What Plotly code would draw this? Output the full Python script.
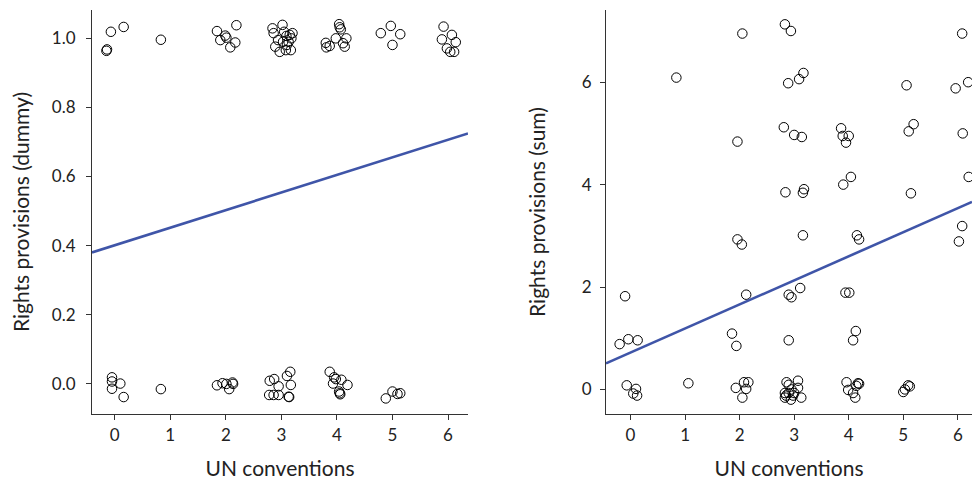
import plotly.graph_objects as go

# ---------------- data: left panel (rights provisions, dummy) ----------------
dummy_x = [
    -0.15, -0.14, -0.07, 0.16,
    0.83,
    1.84, 1.90, 1.99, 2.01, 2.08, 2.17, 2.19,
    2.84, 2.86, 3.02, 3.05, 3.20, 2.89, 2.97, 3.03, 3.08, 3.13, 3.17, 3.10, 3.18, 3.15, 2.94, 3.09,
    3.80, 3.81, 3.87, 3.98, 4.04, 4.05, 4.07, 4.11, 4.14, 4.17,
    4.79, 4.97, 5.00, 5.14,
    5.92, 5.89, 6.07, 6.14, 5.98, 6.04, 6.11,
    -0.05, -0.05, -0.05, 0.10, 0.16,
    0.83,
    1.84, 1.94, 2.01, 2.06, 2.12, 2.13,
    2.79, 2.87, 2.95, 3.10, 3.16, 3.17, 2.78, 2.86, 2.95, 3.13, 3.14,
    3.87, 3.95, 3.98, 3.93, 4.08, 4.19, 4.04, 4.05, 4.06,
    4.88, 5.00, 5.09, 5.14,
]
dummy_y = [
    0.963, 0.967, 1.018, 1.032,
    0.995,
    1.020, 0.994, 1.007, 1.001, 0.973, 0.987, 1.037,
    1.028, 1.014, 1.038, 1.018, 1.014, 0.975, 0.960, 0.989, 0.965, 0.989, 0.965, 0.980, 0.999, 1.009, 0.994, 1.006,
    0.986, 0.973, 0.977, 0.999, 1.040, 1.031, 1.025, 0.985, 0.975, 0.999,
    1.014, 1.035, 0.980, 1.011,
    1.033, 0.996, 1.009, 0.988, 0.970, 0.960, 0.960,
    0.019, 0.007, -0.014, 0.001, -0.038,
    -0.015,
    -0.004, 0.002, 0.000, -0.015, 0.004, 0.000,
    0.009, 0.014, -0.007, 0.023, 0.035, -0.003, -0.032, -0.032, -0.032, -0.037, -0.038,
    0.035, 0.019, 0.014, 0.001, 0.012, -0.003, -0.022, -0.027, -0.030,
    -0.042, -0.022, -0.029, -0.027,
]

# ---------------- data: right panel (rights provisions, sum) ----------------
sum_x = [
    0.84, 2.05, 2.83, 2.94, 6.08, 3.17, 3.09, 2.89, 5.06, 5.96, 6.19,
    2.81, 3.00, 3.14, 1.96, 3.86, 3.89, 4.00, 3.95, 5.10, 5.19, 6.09,
    2.84, 3.18, 3.16, 3.90, 4.04, 5.14, 6.20,
    1.96, 2.04, 3.16, 4.15, 4.19, 6.08, 6.02,
    -0.10, -0.20, -0.04, 0.13, 2.12, 1.86, 1.94, 2.90, 2.95, 3.11, 2.90, 3.94, 4.01, 4.13, 4.08,
    -0.07, 0.10, 0.05, 0.12,
    1.06,
    1.93, 2.05, 2.08, 2.16, 2.12,
    2.90, 3.07, 2.83, 2.83, 2.85, 2.94, 3.00, 3.13, 2.95, 3.07, 2.90, 2.98, 2.86,
    3.96, 3.99, 4.12, 4.17, 4.14, 4.19, 4.08,
    5.00, 5.03, 5.09, 5.12,
]
sum_y = [
    6.09, 6.95, 7.13, 7.00, 6.95, 6.18, 6.06, 5.98, 5.94, 5.88, 6.00,
    5.12, 4.97, 4.93, 4.84, 5.10, 4.95, 4.95, 4.82, 5.04, 5.18, 5.00,
    3.85, 3.91, 3.84, 4.00, 4.15, 3.83, 4.15,
    2.93, 2.83, 3.01, 3.01, 2.93, 3.19, 2.89,
    1.82, 0.885, 0.98, 0.96, 1.85, 1.09, 0.85, 1.85, 1.80, 1.98, 0.96, 1.89, 1.89, 1.14, 0.96,
    0.08, 0.01, -0.08, -0.12,
    0.12,
    0.03, -0.16, 0.14, 0.14, 0.01,
    0.09, 0.17, -0.07, -0.16, -0.12, -0.20, -0.07, -0.16, 0.00, 0.03, -0.07, -0.12, 0.14,
    0.14, -0.01, -0.16, 0.12, 0.07, 0.11, -0.07,
    -0.05, 0.00, 0.08, 0.06,
]

# fitted linear trends (intercept, slope)
dummy_fit = (0.401, 0.0508)
sum_fit = (0.72, 0.47)

x_ticks = [0, 1, 2, 3, 4, 5, 6]
dummy_ticks = [0.0, 0.2, 0.4, 0.6, 0.8, 1.0]
sum_ticks = [0, 2, 4, 6]

x_title = "UN conventions"
y1_title = "Rights provisions (dummy)"
y2_title = "Rights provisions (sum)"

# ---------------- styling ----------------
W, H = 972, 482
x1_range = [-0.41, 6.36]
x2_range = [-0.45, 6.26]
y1_range = [-0.087, 1.081]
y2_range = [-0.48, 7.41]
FONT = "Lato"
TXT = "#222222"
AX = "#333333"
LINE_COLOR = "#3f55a8"
TICK_SIZE = 17
TITLE_SIZE = 21

marker = dict(symbol="circle", size=9.5, color="rgba(0,0,0,0)",
              line=dict(color="black", width=1))

fig = go.Figure()
fig.add_trace(go.Scatter(x=dummy_x, y=dummy_y, mode="markers", marker=marker,
                         xaxis="x", yaxis="y", showlegend=False))
fig.add_trace(go.Scatter(x=x1_range, y=[dummy_fit[0] + dummy_fit[1] * v for v in x1_range],
                         mode="lines", line=dict(color=LINE_COLOR, width=2.6),
                         xaxis="x", yaxis="y", showlegend=False))
fig.add_trace(go.Scatter(x=sum_x, y=sum_y, mode="markers", marker=marker,
                         xaxis="x2", yaxis="y2", showlegend=False))
fig.add_trace(go.Scatter(x=x2_range, y=[sum_fit[0] + sum_fit[1] * v for v in x2_range],
                         mode="lines", line=dict(color=LINE_COLOR, width=2.6),
                         xaxis="x2", yaxis="y2", showlegend=False))

top, bottom = 10, 414
ydom = [1 - bottom / H, 1 - top / H]

common_axis = dict(showgrid=False, zeroline=False, showline=True, linecolor=AX,
                   linewidth=1.2, ticks="outside", ticklen=5, tickcolor=AX, tickwidth=1,
                   tickfont=dict(family=FONT, size=TICK_SIZE, color=TXT))
title_font = dict(family=FONT, size=TITLE_SIZE, color=TXT)

fig.update_layout(
    width=W, height=H,
    margin=dict(l=0, r=0, t=0, b=0),
    paper_bgcolor="white", plot_bgcolor="white",
    font=dict(family=FONT, color=TXT),
    xaxis=dict(domain=[92 / W, 468 / W], range=x1_range, tickvals=x_ticks, anchor="y",
               title=dict(text=x_title, font=title_font, standoff=17),
               **common_axis),
    yaxis=dict(domain=ydom, range=y1_range, tickvals=dummy_ticks, tickformat=".1f", anchor="x",
               ticklabelstandoff=7,
               title=dict(text=y1_title, font=title_font, standoff=16),
               **common_axis),
    xaxis2=dict(domain=[606 / W, 1.0], range=x2_range, tickvals=x_ticks, anchor="y2",
                title=dict(text=x_title, font=title_font, standoff=17),
                **common_axis),
    yaxis2=dict(domain=ydom, range=y2_range, tickvals=sum_ticks, anchor="x2",
                ticklabelstandoff=5,
                title=dict(text=y2_title, font=title_font, standoff=30),
                **common_axis),
)

fig.write_html("out.html",
               config={"displayModeBar": False},
               post_script="document.body.style.margin='0';document.body.style.overflow='hidden';")
